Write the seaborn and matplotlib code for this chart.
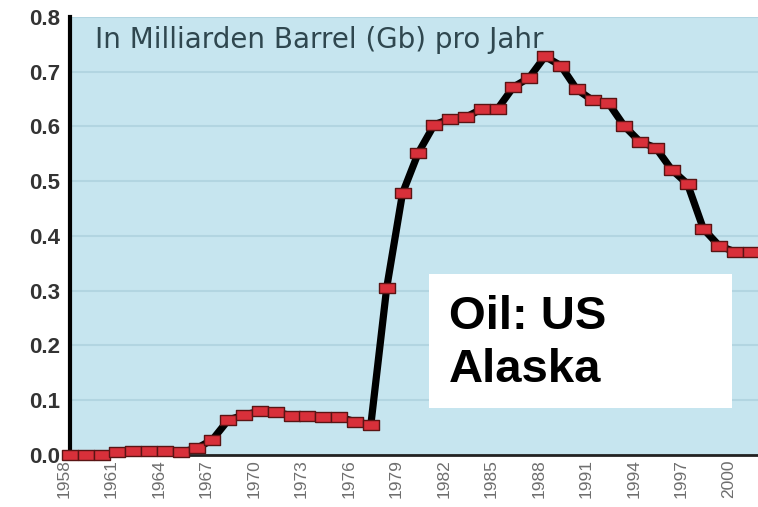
import matplotlib
matplotlib.use('Agg')
import matplotlib.pyplot as plt
import matplotlib.transforms as mtransforms
import seaborn as sns
import pandas as pd
from matplotlib.patches import Rectangle

# data (Gb per year)
years = list(range(1958, 2002))
production = [0.0, 0.0, 0.0, 0.005, 0.007, 0.007, 0.007, 0.005, 0.012, 0.028,
              0.064, 0.073, 0.080, 0.078, 0.072, 0.072, 0.070, 0.069, 0.061, 0.055,
              0.305, 0.478, 0.552, 0.603, 0.614, 0.617, 0.632, 0.632, 0.672, 0.689,
              0.728, 0.711, 0.668, 0.648, 0.643, 0.601, 0.572, 0.561, 0.521, 0.495,
              0.413, 0.382, 0.371, 0.371]
tick_years = list(range(1958, 2001, 3))
y_ticks = [0.0, 0.1, 0.2, 0.3, 0.4, 0.5, 0.6, 0.7, 0.8]
title_text = 'In Milliarden Barrel (Gb) pro Jahr'
label_text = 'Oil: US\nAlaska'

df = pd.DataFrame({'year': years, 'gb': production})

sns.set_style('white', {'axes.facecolor': '#c6e5ef'})
plt.rcParams['font.family'] = ['Liberation Sans', 'DejaVu Sans']

fig = plt.figure(figsize=(7.58, 5.07), dpi=100)
ax = fig.add_axes([0.0923, 0.1026, 0.9077, 0.8639])

ax.yaxis.grid(True, color='#b2d5e1', linewidth=1.5)
ax.set_axisbelow(True)

# rectangular markers, wider than tall
rect = [(-1.5, -1), (1.5, -1), (1.5, 1), (-1.5, 1), (-1.5, -1)]
sns.lineplot(data=df, x='year', y='gb', ax=ax, color='black', linewidth=5.2,
             marker=rect, markersize=11, markerfacecolor='#d8303a',
             markeredgecolor='#5a1414', markeredgewidth=1.0)
for line in ax.lines:
    line.set_clip_on(False)
    line.set_zorder(5)

ax.set_xlim(1958, 2001.45)
ax.set_ylim(0, 0.8)
ax.set_xlabel('')
ax.set_ylabel('')

ax.set_xticks(tick_years)
ax.set_xticklabels([str(y) for y in tick_years], rotation=90, fontsize=12.5,
                   color='#6e6e6e', family=['Liberation Sans Narrow', 'Liberation Sans'])
ax.set_xticks(years, minor=True)
ax.tick_params(axis='x', which='both', direction='in', length=6, width=1,
               color='black', pad=3)
# labels in the original sit a little left of their ticks
shift = mtransforms.ScaledTranslation(-6 / 100, 0, fig.dpi_scale_trans)
for lbl in ax.get_xticklabels():
    lbl.set_transform(lbl.get_transform() + shift)

ax.set_yticks(y_ticks)
ax.set_yticklabels([f'{v:.1f}' for v in y_ticks], fontsize=16, fontweight='bold',
                   color='#333333')
ax.tick_params(axis='y', length=0, pad=7)

for s in ['top', 'right']:
    ax.spines[s].set_visible(False)
ax.spines['left'].set_linewidth(3)
ax.spines['left'].set_color('black')
ax.spines['bottom'].set_linewidth(2)
ax.spines['bottom'].set_color('#222222')

ax.text(0.036, 0.947, title_text, transform=ax.transAxes, fontsize=20,
        color='#2f474f', va='center', ha='left', family='DejaVu Sans')

ax.add_patch(Rectangle((0.5218, 0.1073), 0.4404, 0.3059, transform=ax.transAxes,
                       facecolor='white', edgecolor='none', zorder=6))
ax.text(0.551, 0.365, label_text, transform=ax.transAxes, fontsize=34,
        fontweight='bold', color='black', va='top', ha='left', linespacing=1.27,
        zorder=7)

fig.savefig('out.png', dpi=100)
